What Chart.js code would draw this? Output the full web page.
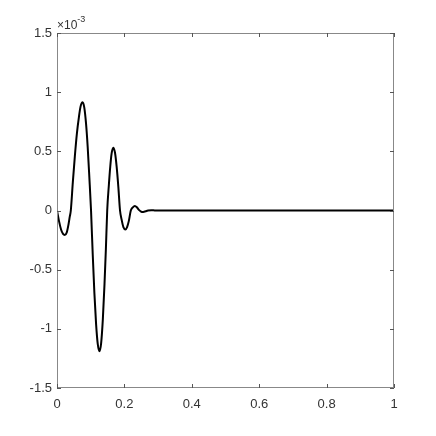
<!DOCTYPE html>
<html>
<head>
  <meta charset="UTF-8" />
  <title>Damped response</title>
  <script src="https://cdn.jsdelivr.net/npm/chart.js"></script>
  <style>
    html, body { margin: 0; padding: 0; background: #fff; }
    #wrap { width: 436px; height: 436px; }
  </style>
</head>
<body>
  <div id="wrap"><canvas id="c" width="436" height="436"></canvas></div>
  <script>
    // curve (y in units of 1e-3)
    const xs = [0, 0.006, 0.012, 0.018, 0.023, 0.029, 0.034, 0.038, 0.041,
                0.047, 0.053, 0.059, 0.065, 0.070, 0.076,
                0.081, 0.086, 0.091, 0.096, 0.101,
                0.106, 0.111, 0.116, 0.121, 0.126,
                0.131, 0.136, 0.141, 0.145, 0.149,
                0.154, 0.158, 0.162, 0.167,
                0.172, 0.177, 0.182, 0.187,
                0.192, 0.197, 0.203, 0.208, 0.213, 0.219,
                0.225, 0.231, 0.237, 0.243, 0.250, 0.256, 0.263, 0.270,
                0.280, 0.290, 0.300, 1.0];
    const ys = [0, -0.09, -0.16, -0.198, -0.207, -0.185, -0.12, -0.05, 0,
                0.24, 0.46, 0.65, 0.79, 0.88, 0.915,
                0.87, 0.74, 0.54, 0.28, 0,
                -0.37, -0.70, -0.96, -1.13, -1.19,
                -1.12, -0.92, -0.62, -0.33, 0,
                0.22, 0.37, 0.48, 0.53,
                0.49, 0.37, 0.20, 0,
                -0.08, -0.14, -0.16, -0.14, -0.09, 0,
                0.027, 0.038, 0.027, 0.005, -0.01, -0.012, -0.006, 0,
                0.003, 0.001, 0, 0];
    const xTicks = [0, 0.2, 0.4, 0.6, 0.8, 1];
    const yTicks = [-1.5, -1, -0.5, 0, 0.5, 1, 1.5];
    const expLabel = ['\u00d710', '-3'];

    const axisColor = '#888';
    const textColor = '#333';
    const font = { family: 'Liberation Sans', size: 13 };

    // box + inward ticks on all sides, and the exponent label
    const matlabBox = {
      id: 'matlabBox',
      afterDraw(chart) {
        const { ctx, chartArea: a, scales } = chart;
        ctx.save();
        ctx.strokeStyle = axisColor;
        ctx.lineWidth = 1;
        ctx.strokeRect(a.left + 0.5, a.top + 0.5, a.right - a.left - 1, a.bottom - a.top - 1);
        ctx.strokeStyle = '#555';
        ctx.beginPath();
        xTicks.forEach(v => {
          const px = Math.round(scales.x.getPixelForValue(v)) + 0.5;
          ctx.moveTo(px, a.bottom); ctx.lineTo(px, a.bottom - 4);
          ctx.moveTo(px, a.top); ctx.lineTo(px, a.top + 4);
        });
        yTicks.forEach(v => {
          const py = Math.round(scales.y.getPixelForValue(v)) + 0.5;
          ctx.moveTo(a.left, py); ctx.lineTo(a.left + 4, py);
          ctx.moveTo(a.right, py); ctx.lineTo(a.right - 4, py);
        });
        ctx.stroke();

        ctx.fillStyle = textColor;
        ctx.textBaseline = 'alphabetic';
        ctx.font = '12px "Liberation Sans"';
        ctx.fillText(expLabel[0], a.left, a.top - 4);
        const w = ctx.measureText(expLabel[0]).width;
        ctx.font = '9px "Liberation Sans"';
        ctx.fillText(expLabel[1], a.left + w, a.top - 11);
        ctx.restore();
      }
    };

    new Chart(document.getElementById('c'), {
      type: 'line',
      data: {
        datasets: [{
          data: xs.map((x, i) => ({ x: x, y: ys[i] })),
          borderColor: '#000',
          borderWidth: 2,
          pointRadius: 0,
          fill: false,
          cubicInterpolationMode: 'monotone'
        }]
      },
      options: {
        responsive: false,
        animation: false,
        layout: { padding: { top: 33, right: 42, bottom: 0, left: 0 } },
        plugins: { legend: { display: false }, tooltip: { enabled: false } },
        scales: {
          x: {
            type: 'linear',
            min: 0, max: 1,
            afterFit(s) { s.height = 48; },
            afterBuildTicks(s) { s.ticks = xTicks.map(v => ({ value: v })); },
            grid: { display: false, drawTicks: false },
            border: { display: false },
            ticks: { color: textColor, font: font, padding: 9, maxRotation: 0,
              callback: v => String(v) }
          },
          y: {
            type: 'linear',
            min: -1.5, max: 1.5,
            afterFit(s) { s.width = 57; },
            afterBuildTicks(s) { s.ticks = yTicks.map(v => ({ value: v })); },
            grid: { display: false, drawTicks: false },
            border: { display: false },
            ticks: { color: textColor, font: font, padding: 5,
              callback: v => String(v) }
          }
        }
      },
      plugins: [matlabBox]
    });
  </script>
</body>
</html>
